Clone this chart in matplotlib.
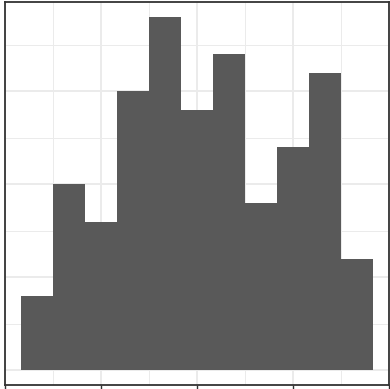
import matplotlib
matplotlib.use("Agg")
import matplotlib.pyplot as plt
import numpy as np

bin_centers = [1, 2, 3, 4, 5, 6, 7, 8, 9, 10, 11]
counts = [8, 20, 16, 30, 38, 28, 34, 18, 24, 32, 12]
x_major = [0, 3, 6, 9, 12]
x_minor = [1.5, 4.5, 7.5, 10.5]
y_major = [0, 10, 20, 30]
y_minor = [5, 15, 25, 35]

W, H = 390, 389
fig = plt.figure(figsize=(W / 100, H / 100), dpi=100)
ax = fig.add_axes([4.5 / W, 4 / H, 384 / W, 383 / H])

ax.bar(bin_centers, counts, width=1.0, color="#595959", edgecolor="none", zorder=3)

ax.set_xlim(0, 12)
ax.set_ylim(-1.56, 39.62)
ax.set_xticks(x_major)
ax.set_xticks(x_minor, minor=True)
ax.set_yticks(y_major)
ax.set_yticks(y_minor, minor=True)
ax.grid(which="major", color="#ebebeb", linewidth=1.4, zorder=0)
ax.grid(which="minor", color="#ebebeb", linewidth=0.7, zorder=0)
ax.tick_params(axis="x", which="major", length=3, width=1, color="#333333",
               labelbottom=False)
ax.tick_params(axis="x", which="minor", length=0)
ax.tick_params(axis="y", which="both", length=0, labelleft=False)
for s in ax.spines.values():
    s.set_color("#333333")
    s.set_linewidth(1.3)

fig.savefig("out.png", dpi=100, facecolor="white")
